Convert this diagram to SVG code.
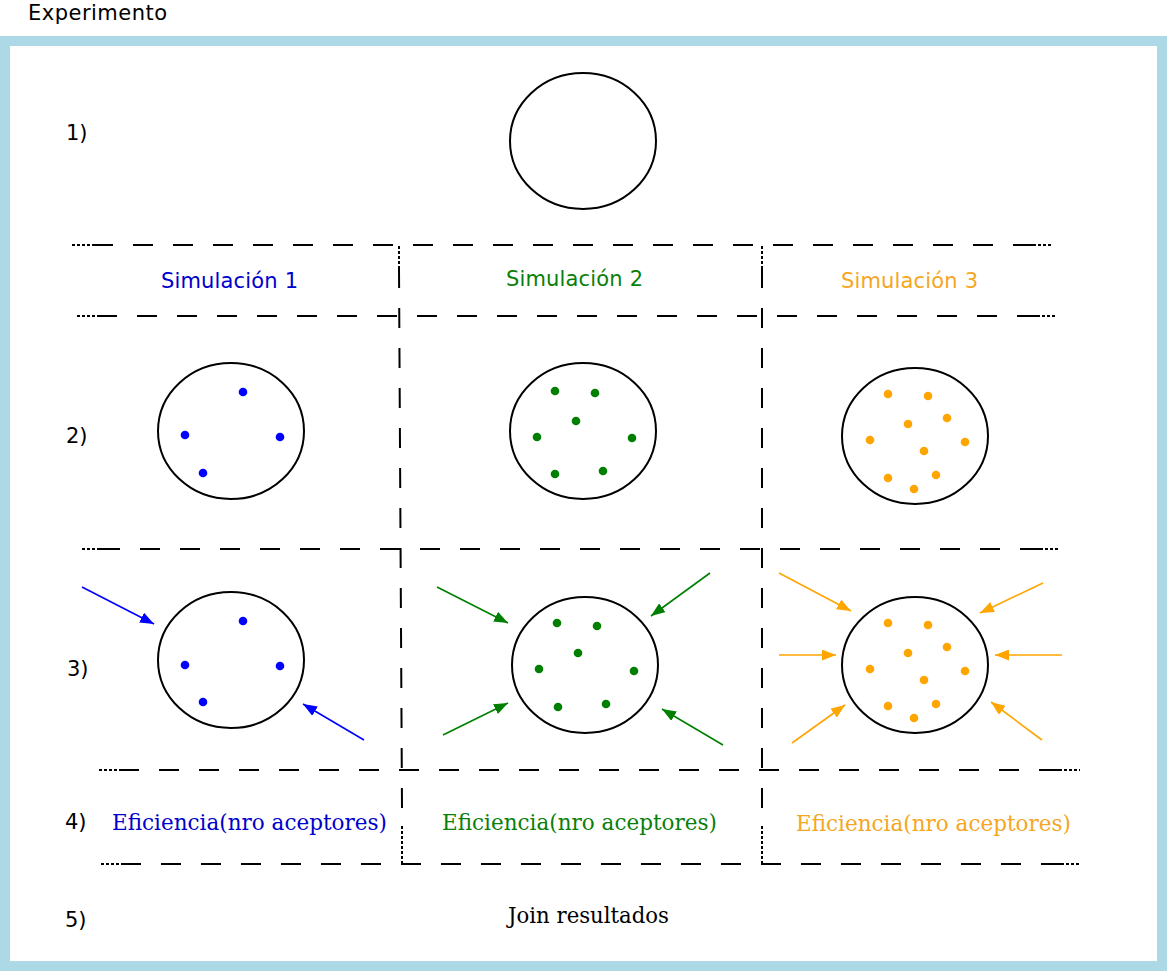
<svg xmlns="http://www.w3.org/2000/svg" width="1167" height="971" viewBox="0 0 1167 971">
<style>
.sans{font-family:"DejaVu Sans","Liberation Sans",sans-serif;font-size:21px}
.serif{font-family:"DejaVu Serif","Liberation Serif",serif;font-size:22px}
.cell{fill:#fff;stroke:#000;stroke-width:2}
.dash{stroke:#000;stroke-width:2;fill:none;stroke-dasharray:20 20}
.dot{stroke:#000;stroke-width:2;fill:none;stroke-dasharray:3 2}
.b{fill:#0000ff}.g{fill:#007f00}.o{fill:#ffa500}
.ab{stroke:#0000ff;stroke-width:1.6;fill:none;marker-end:url(#hb)}
.ag{stroke:#007f00;stroke-width:1.6;fill:none;marker-end:url(#hg)}
.ao{stroke:#ffa500;stroke-width:1.6;fill:none;marker-end:url(#ho)}
</style>
<defs>
<marker id="hb" markerUnits="userSpaceOnUse" markerWidth="15" markerHeight="11" refX="14" refY="5.5" orient="auto"><path d="M0,0 L14,5.5 L0,11 z" fill="#0000ff"/></marker>
<marker id="hg" markerUnits="userSpaceOnUse" markerWidth="15" markerHeight="11" refX="14" refY="5.5" orient="auto"><path d="M0,0 L14,5.5 L0,11 z" fill="#007f00"/></marker>
<marker id="ho" markerUnits="userSpaceOnUse" markerWidth="15" markerHeight="11" refX="14" refY="5.5" orient="auto"><path d="M0,0 L14,5.5 L0,11 z" fill="#ffa500"/></marker>
</defs>
<rect x="0" y="0" width="1167" height="971" fill="#fff"/>
<text class="sans" x="28" y="20" font-size="19" textLength="139" lengthAdjust="spacing">Experimento</text>
<rect id="frame" x="5" y="41" width="1157" height="925" fill="#fff" stroke="#add8e6" stroke-width="10"/>

<g id="grid">
<path class="dot" d="M72,245H93 M1033,245H1053 M77,316H97 M1037,316H1057 M82,549H100 M1040,549H1060 M99,770H119 M1059,770H1080 M101,864H121 M1061,864H1081"/>
<path class="dash" d="M93,245H1033 M97,316H1037 M100,549H1040 M119,770H1059 M121,864H1061"/>
<path class="dot" d="M399,246V268 M762,246V268 M402,826V864 M762,826V864"/>
<path class="dash" d="M399,268L402,808 M762,268V808"/>
</g>

<g id="labels">
<text class="sans" x="66" y="140">1)</text>
<text class="sans" x="66" y="443">2)</text>
<text class="sans" x="67" y="676">3)</text>
<text class="sans" x="65" y="829">4)</text>
<text class="sans" x="65" y="927">5)</text>
</g>

<g id="sim-headers">
<text class="sans" x="161" y="288" fill="#0000cc" textLength="137" lengthAdjust="spacing">Simulación 1</text>
<text class="sans" x="506" y="286" fill="#0a7f0a" textLength="137" lengthAdjust="spacing">Simulación 2</text>
<text class="sans" x="841" y="288" fill="#f5a623" textLength="137" lengthAdjust="spacing">Simulación 3</text>
</g>

<g id="n1">
<ellipse class="cell" cx="583" cy="141" rx="73" ry="68"/>
</g>

<g id="n2a">
<ellipse class="cell" cx="231" cy="431" rx="73" ry="68"/>
<g class="b"><circle cx="243" cy="392" r="4.3"/><circle cx="185" cy="435" r="4.3"/><circle cx="280" cy="437" r="4.3"/><circle cx="203" cy="473" r="4.3"/></g>
</g>
<g id="n2b">
<ellipse class="cell" cx="583" cy="431" rx="73" ry="68"/>
<g class="g"><circle cx="555" cy="391" r="4.3"/><circle cx="595" cy="393" r="4.3"/><circle cx="576" cy="421" r="4.3"/><circle cx="537" cy="437" r="4.3"/><circle cx="632" cy="438" r="4.3"/><circle cx="555" cy="474" r="4.3"/><circle cx="603" cy="471" r="4.3"/></g>
</g>
<g id="n2c">
<ellipse class="cell" cx="915" cy="436" rx="73" ry="68"/>
<g class="o"><circle cx="888" cy="394" r="4.3"/><circle cx="928" cy="396" r="4.3"/><circle cx="947" cy="418" r="4.3"/><circle cx="908" cy="424" r="4.3"/><circle cx="870" cy="440" r="4.3"/><circle cx="965" cy="442" r="4.3"/><circle cx="924" cy="451" r="4.3"/><circle cx="888" cy="478" r="4.3"/><circle cx="936" cy="475" r="4.3"/><circle cx="914" cy="489" r="4.3"/></g>
</g>

<g id="n3a">
<ellipse class="cell" cx="231" cy="660" rx="73" ry="68"/>
<g class="b"><circle cx="243" cy="621" r="4.3"/><circle cx="185" cy="665" r="4.3"/><circle cx="280" cy="666" r="4.3"/><circle cx="203" cy="702" r="4.3"/></g>
</g>
<g id="n3b">
<ellipse class="cell" cx="585" cy="665" rx="73" ry="68"/>
<g class="g"><circle cx="557" cy="623" r="4.3"/><circle cx="597" cy="626" r="4.3"/><circle cx="578" cy="653" r="4.3"/><circle cx="539" cy="669" r="4.3"/><circle cx="634" cy="671" r="4.3"/><circle cx="558" cy="707" r="4.3"/><circle cx="606" cy="704" r="4.3"/></g>
</g>
<g id="n3c">
<ellipse class="cell" cx="915" cy="665" rx="73" ry="68"/>
<g class="o"><circle cx="888" cy="623" r="4.3"/><circle cx="928" cy="625" r="4.3"/><circle cx="947" cy="647" r="4.3"/><circle cx="908" cy="653" r="4.3"/><circle cx="870" cy="669" r="4.3"/><circle cx="965" cy="671" r="4.3"/><circle cx="924" cy="680" r="4.3"/><circle cx="888" cy="706" r="4.3"/><circle cx="936" cy="704" r="4.3"/><circle cx="914" cy="718" r="4.3"/></g>
</g>

<g id="connectors">
<line class="ab" x1="82" y1="587" x2="154" y2="624"/>
<line class="ab" x1="364" y1="740" x2="303" y2="704"/>
<line class="ag" x1="437" y1="587" x2="508" y2="623"/>
<line class="ag" x1="710" y1="573" x2="651" y2="616"/>
<line class="ag" x1="443" y1="735" x2="508" y2="703"/>
<line class="ag" x1="723" y1="745" x2="662" y2="709"/>
<line class="ao" x1="779" y1="573" x2="851" y2="611"/>
<line class="ao" x1="1043" y1="583" x2="980" y2="613"/>
<line class="ao" x1="779" y1="655" x2="836" y2="655"/>
<line class="ao" x1="1062" y1="655" x2="995" y2="655"/>
<line class="ao" x1="792" y1="743" x2="845" y2="705"/>
<line class="ao" x1="1042" y1="740" x2="991" y2="702"/>
</g>

<g id="results">
<text class="serif" x="112" y="830" fill="#0000cc" textLength="275" lengthAdjust="spacingAndGlyphs">Eficiencia(nro aceptores)</text>
<text class="serif" x="442" y="830" fill="#0a7f0a" textLength="275" lengthAdjust="spacingAndGlyphs">Eficiencia(nro aceptores)</text>
<text class="serif" x="796" y="831" fill="#f5a623" textLength="275" lengthAdjust="spacingAndGlyphs">Eficiencia(nro aceptores)</text>
</g>
<g id="join">
<text class="serif" x="508" y="923" fill="#000" textLength="161" lengthAdjust="spacingAndGlyphs">Join resultados</text>
</g>
</svg>
